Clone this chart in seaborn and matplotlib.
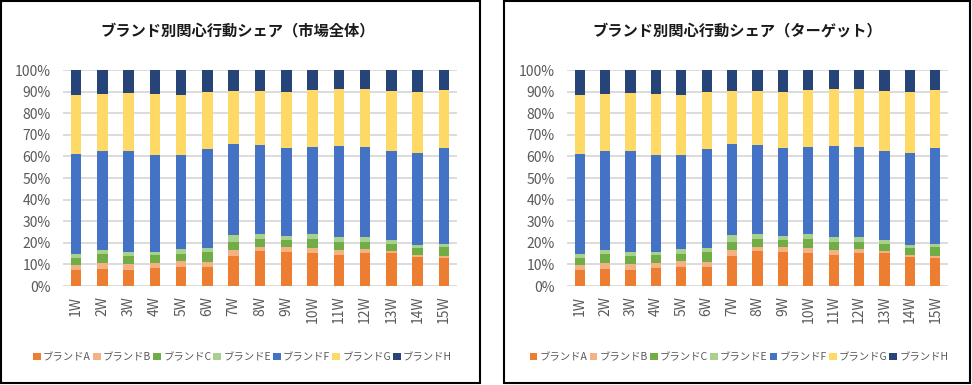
import matplotlib
matplotlib.use("Agg")
import matplotlib.pyplot as plt
from matplotlib.patches import Patch, Rectangle
import seaborn as sns
import pandas as pd
import numpy as np

sns.set_theme(style="white")
plt.rcParams['font.family'] = ['Noto Sans CJK JP', 'DejaVu Sans']

weeks = [f"{i}W" for i in range(1, 16)]
brands = ["ブランドA", "ブランドB", "ブランドC", "ブランドE", "ブランドF", "ブランドG", "ブランドH"]
colors = ["#ED7D31", "#F4B183", "#70AD47", "#A9D18E", "#4472C4", "#FFD966", "#264478"]

# shares (%) per week – market overall
market_A = [7.4, 8.0, 7.4, 8.5, 9.0, 9.0, 13.9, 16.2, 15.7, 15.3, 14.4, 15.3, 15.3, 13.4, 13.0]
market_B = [2.3, 2.8, 2.8, 2.1, 2.6, 2.3, 2.9, 1.9, 2.4, 2.3, 2.3, 1.8, 0.9, 1.0, 0.9]
market_C = [3.1, 4.0, 3.7, 3.8, 3.2, 4.6, 3.6, 3.7, 3.2, 4.2, 3.7, 3.3, 3.2, 3.2, 4.2]
market_E = [2.2, 2.0, 2.0, 1.5, 2.5, 1.8, 3.1, 2.4, 2.0, 2.3, 2.1, 2.1, 1.7, 1.4, 1.3]
market_F = [46.1, 45.9, 46.8, 44.7, 43.3, 45.9, 42.2, 41.1, 40.6, 40.3, 42.3, 41.9, 41.4, 42.6, 44.5]
market_G = [27.3, 26.2, 26.8, 28.4, 28.0, 26.4, 24.7, 25.0, 25.9, 26.3, 26.4, 26.8, 27.8, 28.2, 26.8]
market_H = [11.6, 11.1, 10.5, 11.0, 11.4, 10.0, 9.6, 9.7, 10.2, 9.3, 8.8, 8.8, 9.7, 10.2, 9.3]

# shares (%) per week – target
target_A = [7.4, 8.0, 7.4, 8.5, 9.0, 9.0, 13.9, 16.2, 15.7, 15.3, 14.4, 15.3, 15.3, 13.4, 13.0]
target_B = [2.3, 2.8, 2.8, 2.1, 2.6, 2.3, 2.9, 1.9, 2.4, 2.3, 2.3, 1.8, 0.9, 1.0, 0.9]
target_C = [3.1, 4.0, 3.7, 3.8, 3.2, 4.6, 3.6, 3.7, 3.2, 4.2, 3.7, 3.3, 3.2, 3.2, 4.2]
target_E = [2.2, 2.0, 2.0, 1.5, 2.5, 1.8, 3.1, 2.4, 2.0, 2.3, 2.1, 2.1, 1.7, 1.4, 1.3]
target_F = [46.1, 45.9, 46.8, 44.7, 43.3, 45.9, 42.2, 41.1, 40.6, 40.3, 42.3, 41.9, 41.4, 42.6, 44.5]
target_G = [27.3, 26.2, 26.8, 28.4, 28.0, 26.4, 24.7, 25.0, 25.9, 26.3, 26.4, 26.8, 27.8, 28.2, 26.8]
target_H = [11.6, 11.1, 10.5, 11.0, 11.4, 10.0, 9.6, 9.7, 10.2, 9.3, 8.8, 8.8, 9.7, 10.2, 9.3]

yticks = [0, 10, 20, 30, 40, 50, 60, 70, 80, 90, 100]
ytick_labels = [f"{v}%" for v in yticks]

titles = ["ブランド別関心行動シェア（市場全体）", "ブランド別関心行動シェア（ターゲット）"]
panels = [
    [market_A, market_B, market_C, market_E, market_F, market_G, market_H],
    [target_A, target_B, target_C, target_E, target_F, target_G, target_H],
]

W, H = 972, 385
fig = plt.figure(figsize=(W / 100, H / 100), dpi=100)
fig.patch.set_facecolor("white")

def px_axes(x0, y0, x1, y1):
    return fig.add_axes([x0 / W, (H - y1) / H, (x1 - x0) / W, (y1 - y0) / H])

axes_px = [(63, 70, 457, 286), (567, 70, 948, 286)]
frames_px = [(1, 1, 480, 383), (504, 1, 970, 383)]
title_x = [238, 737]
grey = "#595959"

for p in range(2):
    ax = px_axes(*axes_px[p])
    series = panels[p]
    df = pd.DataFrame({b: s for b, s in zip(brands, series)}, index=weeks)
    cum = df.cumsum(axis=1)
    for i in range(len(brands) - 1, -1, -1):
        sns.barplot(x=weeks, y=cum[brands[i]].values, color=colors[i],
                    width=0.4, ax=ax, saturation=1, linewidth=0, zorder=3)
    ax.set_ylim(0, 100)
    ax.set_xlim(-0.5, 14.5)
    ax.set_yticks(yticks)
    ax.set_yticklabels(ytick_labels)
    ax.tick_params(axis="y", length=0, labelsize=10, labelcolor=grey, pad=9)
    ax.tick_params(axis="x", length=0, labelsize=10, labelcolor=grey, rotation=90, pad=7)
    ax.yaxis.grid(True, color="#d9d9d9", linewidth=1.3, zorder=0)
    ax.set_axisbelow(True)
    for s in ax.spines.values():
        s.set_visible(False)
    ax.set_xlabel("")
    ax.set_ylabel("")

    fx0, fy0, fx1, fy1 = frames_px[p]
    fig.patches.append(Rectangle((fx0 / W, (H - fy1) / H), (fx1 - fx0) / W, (fy1 - fy0) / H,
                                 transform=fig.transFigure, fill=False,
                                 edgecolor="black", linewidth=1.5, zorder=10))
    fig.text(title_x[p] / W, (H - 30) / H, titles[p], ha="center", va="center",
             fontsize=11, fontweight="bold", color="#1a1a1a")

    handles = [Patch(facecolor=c, edgecolor="none", label=b) for b, c in zip(brands, colors)]
    leg_cx = (fx0 + fx1) / 2 + 2
    fig.legend(handles=handles, loc="center", bbox_to_anchor=(leg_cx / W, (H - 357) / H),
               ncol=7, frameon=False, fontsize=7.5, handlelength=0.75, handleheight=0.75,
               handletextpad=0.2, columnspacing=0.2, labelcolor=grey, borderpad=0)

fig.savefig("out.png", dpi=100, facecolor="white")
